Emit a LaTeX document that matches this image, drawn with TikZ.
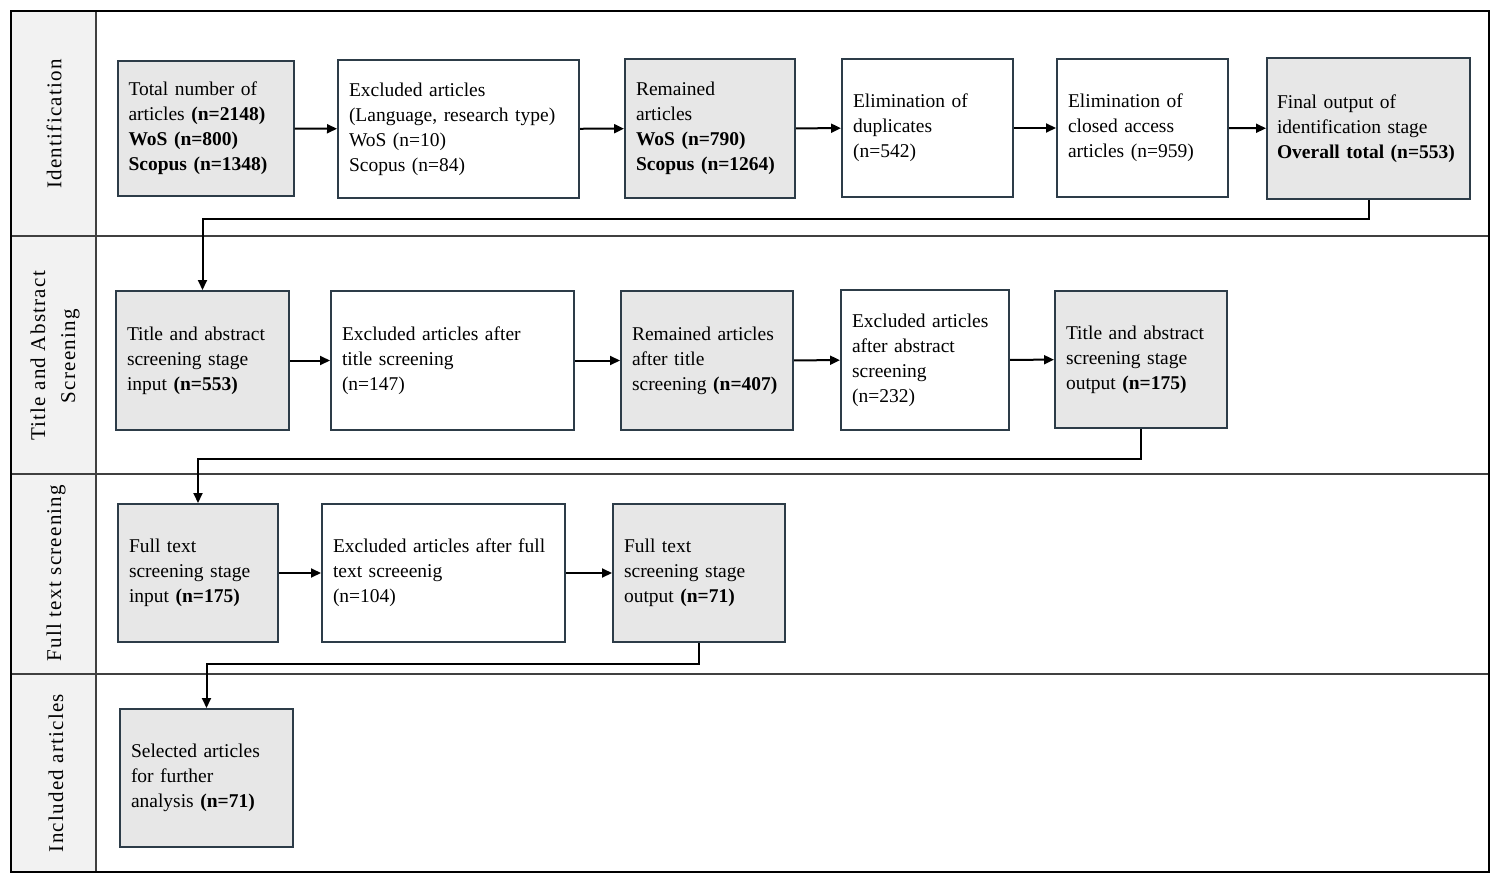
\documentclass[tikz,border=0pt]{standalone}
\usepackage{fontspec}
\usepackage{tikz}
\usetikzlibrary{arrows.meta}
\setmainfont{Liberation Serif}
\newfontfamily\lanefont[LetterSpace=6]{Liberation Serif}

\definecolor{boxline}{RGB}{45,60,72}
\definecolor{boxfill}{RGB}{231,231,231}
\definecolor{lanefill}{RGB}{242,242,242}

\tikzset{
    stage/.style={draw=boxline, line width=1pt, align=left, inner xsep=5.5pt, inner ysep=0pt,
        font=\fontsize{9.75}{12.5}\selectfont},
    keep/.style={stage, fill=boxfill},
    drop/.style={stage, fill=white},
    link/.style={line width=1pt, -{Triangle[length=5pt,width=4.5pt]}},
    lane/.style={rotate=90, align=center, font=\lanefont\fontsize{10.5}{15}\selectfont},
    lanerule/.style={line width=0.7pt, black!75}
}

\begin{document}
\begin{tikzpicture}[x=0.5pt, y=-0.5pt]
    \useasboundingbox (0,0) rectangle (1498,882);

    % Lanes
    \fill[lanefill] (11,11) rectangle (96,872);
    \draw[lanerule] (96,11) -- (96,872);
    \draw[lanerule] (11,236) -- (1489,236);
    \draw[lanerule] (11,474) -- (1489,474);
    \draw[lanerule] (11,674) -- (1489,674);
    \draw[line width=1pt] (11,11) rectangle (1489,872);

    \node[lane] (lid) at (54,124) {Identification};
    \node[lane] (ltas) at (55,356) {Title and Abstract\\Screening};
    \node[lane] (lfts) at (56,573) {Full text screening};
    \node[lane] (linc) at (56,773) {Included articles};

    % Identification
    \node[keep, text width=77pt, minimum height=67.5pt] (a1) at (205.5,128.5)
        {Total number of\\articles \textbf{(n=2148)}\\\textbf{WoS (n=800)}\\\textbf{Scopus (n=1348)}};
    \node[drop, text width=109.5pt, minimum height=69pt] (a2) at (458.5,129)
        {Excluded articles\\(Language, research type)\\WoS (n=10)\\Scopus (n=84)};
    \node[keep, text width=74pt, minimum height=69.5pt] (a3) at (710,128.5)
        {Remained\\articles\\\textbf{WoS (n=790)}\\\textbf{Scopus (n=1264)}};
    \node[drop, text width=74.5pt, minimum height=69pt] (a4) at (927.5,128)
        {Elimination of\\duplicates\\(n=542)};
    \node[drop, text width=74.5pt, minimum height=69pt] (a5) at (1142.5,128)
        {Elimination of\\closed access\\articles (n=959)};
    \node[keep, text width=91.5pt, inner xsep=5pt, minimum height=70.5pt] (a6) at (1368.5,128.5)
        {Final output of\\identification stage\\\textbf{Overall total (n=553)}};

    \draw[link] (a1) -- (a2);
    \draw[link] (a2) -- (a3);
    \draw[link] (a3) -- (a4);
    \draw[link] (a4) -- (a5);
    \draw[link] (a5) -- (a6);

    % Title and abstract screening
    \node[keep, text width=75.5pt, minimum height=69.5pt] (b1) at (202.5,360.5)
        {Title and abstract\\screening stage\\input \textbf{(n=553)}};
    \node[drop, text width=110.5pt, minimum height=69.5pt] (b2) at (452.5,360.5)
        {Excluded articles after\\title screening\\(n=147)};
    \node[keep, text width=75pt, minimum height=69.5pt] (b3) at (707,360.5)
        {Remained articles\\after title\\screening \textbf{(n=407)}};
    \node[drop, text width=73pt, minimum height=70pt] (b4) at (925,360)
        {Excluded articles\\after abstract\\screening\\(n=232)};
    \node[keep, text width=75pt, minimum height=68.5pt] (b5) at (1141,359.5)
        {Title and abstract\\screening stage\\output \textbf{(n=175)}};

    \draw[link] (a6.south) -- ++(0,19) -| (b1.north);
    \draw[link] (b1) -- (b2);
    \draw[link] (b2) -- (b3);
    \draw[link] (b3) -- (b4);
    \draw[link] (b4) -- (b5);

    % Full text screening
    \node[keep, text width=69pt, minimum height=69pt] (c1) at (198,573)
        {Full text\\screening stage\\input \textbf{(n=175)}};
    \node[drop, text width=110.5pt, minimum height=69pt] (c2) at (443.5,573)
        {Excluded articles after full\\text screeenig\\(n=104)};
    \node[keep, text width=75pt, minimum height=69pt] (c3) at (699,573)
        {Full text\\screening stage\\output \textbf{(n=71)}};

    \draw[link] (b5.south) -- ++(0,30) -| (c1.north);
    \draw[link] (c1) -- (c2);
    \draw[link] (c2) -- (c3);

    % Included articles
    \node[keep, text width=75.5pt, minimum height=69pt] (d1) at (206.5,778)
        {Selected articles\\for further\\analysis \textbf{(n=71)}};

    \draw[link] (c3.south) -- ++(0,21) -| (d1.north);
\end{tikzpicture}
\end{document}
